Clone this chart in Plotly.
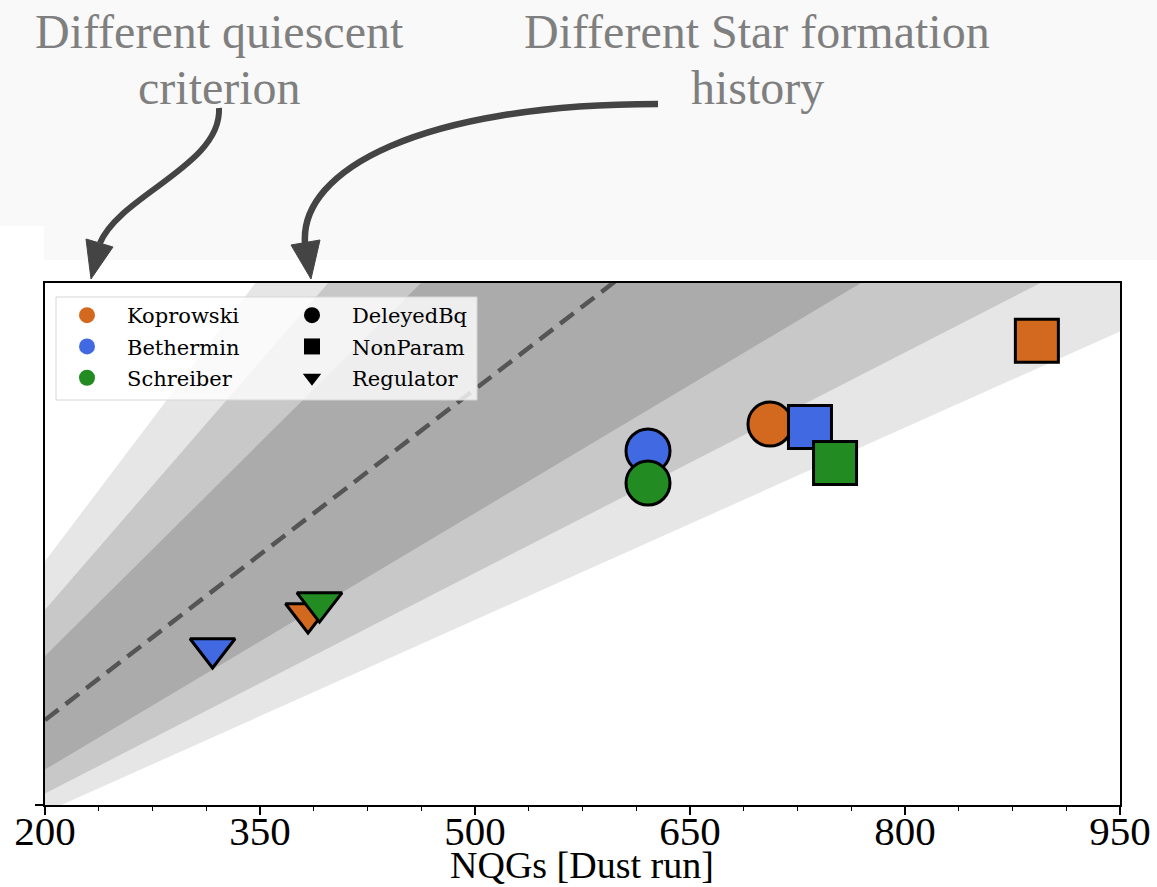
import numpy as np
import plotly.graph_objects as go

# ---------------- data ----------------
criteria = ["Koprowski", "Bethermin", "Schreiber"]
criteria_colors = ["#D2691E", "#4169E1", "#228B22"]
sfh_models = ["DeleyedBq", "NonParam", "Regulator"]
sfh_symbols = ["circle", "square", "triangle-down"]
sfh_sizes = [44, 43, 39]

# NQGs [Dust run] (x) per criterion, ordered as sfh_models
x_koprowski = [705.8, 892.0, 383.5]
x_bethermin = [620.7, 733.7, 316.9]
x_schreiber = [620.7, 751.2, 391.5]
# vertical values (axis unlabeled in original)
y_koprowski = [468.4, 544.0, 296.6]
y_bethermin = [444.0, 465.7, 264.8]
y_schreiber = [414.9, 433.0, 306.5]

x_values = [x_koprowski, x_bethermin, x_schreiber]
y_values = [y_koprowski, y_bethermin, y_schreiber]

# ratio bands around the 1:1 line (light, mid, dark)
band_factors = [1.72, 1.50, 1.29]
band_colors = ["#e6e6e6", "#c8c8c8", "#ababab"]

x_ticks = [200, 350, 500, 650, 800, 950]
x_range = [200, 950]
y_range = [122.9, 596.3]
x_title = "NQGs [Dust run]"

# ---------------- geometry helpers (pixel -> paper) ----------------
L, R, T, B = 45, 1120, 283, 805
W, H = 1157, 887


def px(x):
    return (x - L) / (R - L)


def py(y):
    return (B - y) / (B - T)


fig = go.Figure()

# bands
span = np.array([100.0, 1100.0])
for f, c in zip(band_factors, band_colors):
    bx = np.concatenate([span, span[::-1]])
    by = np.concatenate([span * f, span[::-1] / f])
    fig.add_trace(go.Scatter(x=bx, y=by, fill="toself", fillcolor=c, mode="none",
                             line=dict(width=0), showlegend=False, hoverinfo="skip"))

# 1:1 dashed line
line_x = np.array(x_range, dtype=float)
fig.add_trace(go.Scatter(x=line_x, y=line_x, mode="lines",
                         line=dict(color="#555555", width=4.5, dash="17px,9px"),
                         showlegend=False, hoverinfo="skip"))

# data markers
for name, col, xs, ys in zip(criteria, criteria_colors, x_values, y_values):
    fig.add_trace(go.Scatter(
        x=xs, y=ys, mode="markers", name=name, showlegend=False,
        marker=dict(symbol=sfh_symbols, size=sfh_sizes, color=col, opacity=1,
                    line=dict(color="black", width=3)),
        text=sfh_models))

# legend proxies
for i, (name, col) in enumerate(zip(criteria, criteria_colors)):
    fig.add_trace(go.Scatter(x=[None], y=[None], mode="markers", name=name,
                             legend="legend", legendgroup="c%d" % i,
                             marker=dict(symbol="circle", size=20, color=col, opacity=1)))
for i, (name, sym) in enumerate(zip(sfh_models, sfh_symbols)):
    fig.add_trace(go.Scatter(x=[None], y=[None], mode="markers", name=name,
                             legend="legend2", legendgroup="s%d" % i,
                             marker=dict(symbol=sym, size=20, color="black", opacity=1)))

# ---------------- decorations ----------------
shapes = []
# light gray header background
shapes.append(dict(type="rect", xref="paper", yref="paper", layer="below",
                   x0=px(0), x1=px(W), y0=py(226), y1=py(0),
                   fillcolor="#f9f9f9", line=dict(width=0)))
shapes.append(dict(type="rect", xref="paper", yref="paper", layer="below",
                   x0=px(44), x1=px(W), y0=py(260), y1=py(226),
                   fillcolor="#f9f9f9", line=dict(width=0)))
# legend box
shapes.append(dict(type="rect", xref="paper", yref="paper", layer="above",
                   x0=px(56), x1=px(477), y0=py(400), y1=py(297),
                   fillcolor="rgba(255,255,255,0.8)", line=dict(color="#d6d6d6", width=1)))


def bez(p0, p1, p2, p3):
    return "M {:.5f},{:.5f} C {:.5f},{:.5f} {:.5f},{:.5f} {:.5f},{:.5f}".format(
        px(p0[0]), py(p0[1]), px(p1[0]), py(p1[1]), px(p2[0]), py(p2[1]), px(p3[0]), py(p3[1]))


def tri(a, b, c):
    return "M {:.5f},{:.5f} L {:.5f},{:.5f} L {:.5f},{:.5f} Z".format(
        px(a[0]), py(a[1]), px(b[0]), py(b[1]), px(c[0]), py(c[1]))


arrow_col = "#444444"
shapes.append(dict(type="path", xref="paper", yref="paper", layer="above",
                   path=bez((219, 108), (222, 165), (120, 195), (100, 243)),
                   line=dict(color=arrow_col, width=6)))
shapes.append(dict(type="path", xref="paper", yref="paper", layer="above",
                   path=tri((86, 239), (113, 247), (91, 279)),
                   fillcolor=arrow_col, line=dict(color=arrow_col, width=1)))
shapes.append(dict(type="path", xref="paper", yref="paper", layer="above",
                   path=bez((658, 104), (420, 104), (300, 170), (305, 243)),
                   line=dict(color=arrow_col, width=6.5)))
shapes.append(dict(type="path", xref="paper", yref="paper", layer="above",
                   path=tri((291, 245), (320, 240), (311, 279)),
                   fillcolor=arrow_col, line=dict(color=arrow_col, width=1)))

txt_font = dict(family="Liberation Serif", size=48, color="#7f7f7f")
annotations = []
for text, cx, cy in [("Different quiescent", 219, 32), ("criterion", 219, 88),
                     ("Different Star formation", 757, 32), ("history", 757, 88)]:
    annotations.append(dict(text=text, x=px(cx), y=py(cy), xref="paper", yref="paper",
                            xanchor="center", yanchor="middle", showarrow=False,
                            font=txt_font))
# x-axis title
annotations.append(dict(text=x_title, x=px(582), y=py(887), xref="paper", yref="paper",
                        xanchor="center", yanchor="bottom", showarrow=False, borderpad=0,
                        font=dict(family="Liberation Serif", size=38, color="black")))

leg_font = dict(family="DejaVu Serif", size=21, color="black")
fig.update_layout(
    width=W, height=H, autosize=False,
    margin=dict(l=L, r=W - R, t=T, b=H - B, pad=0),
    paper_bgcolor="white", plot_bgcolor="white",
    shapes=shapes, annotations=annotations,
    showlegend=True,
    legend=dict(x=px(47), y=py(295), xanchor="left", yanchor="top",
                bgcolor="rgba(0,0,0,0)", borderwidth=0, tracegroupgap=1,
                itemwidth=70, font=leg_font, itemsizing="trace"),
    legend2=dict(x=px(272), y=py(295), xanchor="left", yanchor="top",
                 bgcolor="rgba(0,0,0,0)", borderwidth=0, tracegroupgap=1,
                 itemwidth=70, font=leg_font, itemsizing="trace"),
    xaxis=dict(range=x_range, tickvals=x_ticks, ticks="outside", ticklen=8, tickwidth=1.5,
               tickcolor="black", showgrid=False, zeroline=False, automargin=False,
               showline=True, linecolor="black", linewidth=2, mirror=True,
               ticklabelstandoff=-19,
               minor=dict(dtick=37.5, tick0=200, ticks="outside", ticklen=4, tickwidth=1,
                          tickcolor="black", showgrid=False),
               tickfont=dict(family="Liberation Serif", size=41, color="black")),
    yaxis=dict(range=y_range, tickvals=[y_range[0]], ticks="outside", ticklen=8,
               tickwidth=1.5, tickcolor="black", showticklabels=False, automargin=False,
               showgrid=False, zeroline=False,
               showline=True, linecolor="black", linewidth=2, mirror=True),
)

fig.write_html("out.html", config={"displayModeBar": False},
               post_script="document.body.style.margin='0px';")
